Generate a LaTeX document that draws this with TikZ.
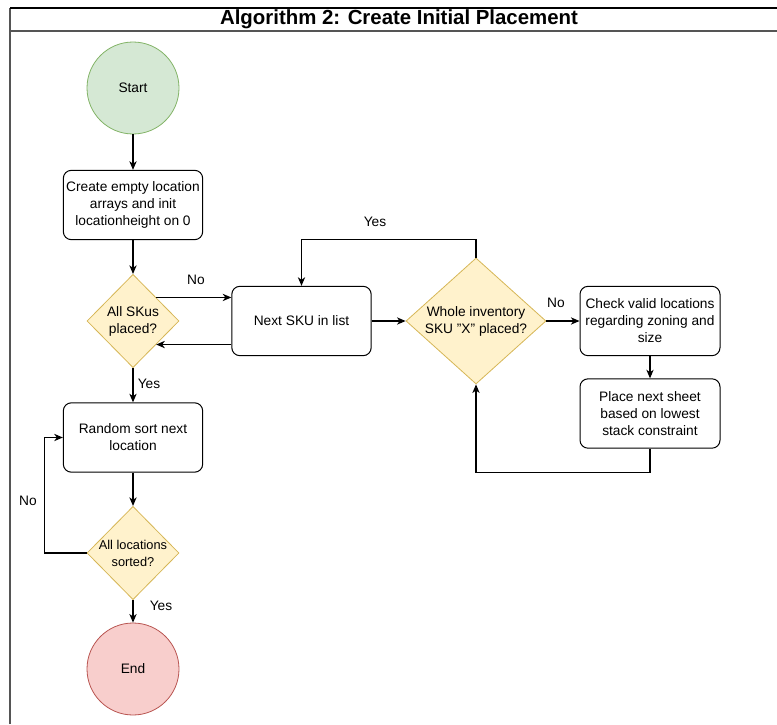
\documentclass[tikz,border=0pt]{standalone}
\usepackage{fontspec}
\setmainfont{Liberation Sans}
\usetikzlibrary{shapes.geometric,arrows.meta}

\definecolor{startfill}{HTML}{D5E8D4}
\definecolor{startline}{HTML}{82B366}
\definecolor{endfill}{HTML}{F8CECC}
\definecolor{endline}{HTML}{B85450}
\definecolor{decfill}{HTML}{FFF2CC}
\definecolor{decline}{HTML}{D6B656}
\definecolor{framegray}{HTML}{555555}

\tikzset{
  txt/.style={font=\fontsize{10.3}{12.7}\selectfont},
  box/.style={txt, draw, rounded corners=6pt, minimum width=104.5pt, minimum height=52pt, align=center, inner sep=1pt, line width=0.75pt},
  decision/.style={txt, diamond, draw=decline, fill=decfill, inner sep=-8pt, align=center, line width=0.6pt},
  terminal/.style={txt, circle, minimum size=69pt, inner sep=0pt, line width=0.6pt},
  flow/.style={-{Stealth[length=6.5pt,width=5.5pt,inset=2pt]}, line width=0.8pt},
  lbl/.style={txt},
}

\begin{document}
\begin{tikzpicture}[x=0.75pt, y=-0.75pt]
  \useasboundingbox (0,0) rectangle (777,724);

  % frame and title
  \draw[framegray, line width=1.2pt] (10,724) -- (10,8);
  \draw[line width=1.5pt] (10,8) -- (777,8);
  \draw[framegray, line width=1.5pt] (10,31) -- (777,31);
  \node[font=\fontsize{15.3}{17}\bfseries\selectfont] (title) at (399,19) {Algorithm 2: Create Initial Placement};

  % left column
  \node[terminal, draw=startline, fill=startfill] (start) at (133,88) {Start};
  \node[box] (init) at (133,205) {Create empty location\\arrays and init\\locationheight on 0};
  \node[decision, minimum width=69pt, minimum height=70pt] (allsku) at (133,321) {All SKus\\placed?};
  \node[box] (randsort) at (133,437.5) {Random sort next\\location};
  \node[decision, minimum width=69pt, minimum height=70pt, font=\fontsize{9.6}{12.7}\selectfont] (allloc) at (133,553) {All locations\\sorted?};
  \node[terminal, draw=endline, fill=endfill] (end) at (133,669) {End};

  % right part
  \node[box] (nextsku) at (301.5,321) {Next SKU in list};
  \node[decision, minimum width=105pt, minimum height=94.5pt] (whole) at (476,321) {Whole inventory\\SKU "X" placed?};
  \node[box, minimum width=105pt] (check) at (650,321) {Check valid locations\\regarding zoning and\\size};
  \node[box, minimum width=105pt] (place) at (650,413.5) {Place next sheet\\based on lowest\\stack constraint};

  % connectors
  \draw[flow] (start) -- (init);
  \draw[flow] (init) -- (allsku);
  \draw[flow] (allsku.north east) -- (allsku.north east -| nextsku.west);
  \draw[flow] (nextsku.west |- allsku.south east) -- (allsku.south east);
  \draw[flow] (allsku) -- (randsort);
  \draw[flow] (randsort) -- (allloc);
  \draw[flow] (allloc.west) -- ++(-42,0) |- (randsort.west);
  \draw[flow] (allloc) -- (end);
  \draw[flow] (nextsku) -- (whole);
  \draw[flow] (whole.north) -- ++(0,-18) -| (nextsku.north);
  \draw[flow] (whole) -- (check);
  \draw[flow] (check) -- (place);
  \draw[flow] (place.south) -- ++(0,24) -| (whole.south);

  % branch labels
  \node[lbl] (nolbl1) at (196,280) {No};
  \node[lbl] (yeslbl1) at (149,384) {Yes};
  \node[lbl] (nolbl2) at (28,501) {No};
  \node[lbl] (yeslbl2) at (161,606) {Yes};
  \node[lbl] (yeslbl3) at (375,222) {Yes};
  \node[lbl] (nolbl3) at (556,303) {No};
\end{tikzpicture}
\end{document}
